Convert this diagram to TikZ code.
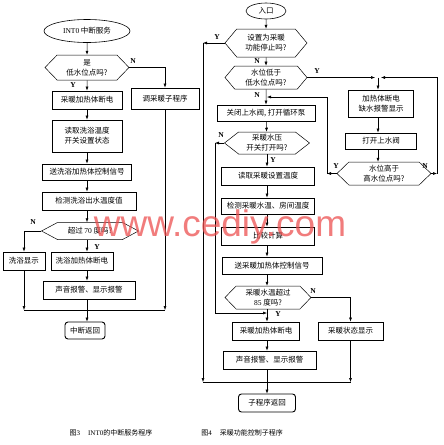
\documentclass[tikz,border=0pt]{standalone}
\usepackage{fontspec}
\setmainfont{Liberation Serif}
\newfontfamily\cjk{Noto Sans CJK SC}
\newfontfamily\wmfont{Liberation Sans}
\usetikzlibrary{arrows.meta,shapes.geometric,shapes.symbols}

\begin{document}
\begin{tikzpicture}[
  x=1pt, y=-1pt,
  font=\cjk\fontsize{7.5}{10}\selectfont,
  box/.style={draw, line width=0.9pt, align=center, inner sep=0pt},
  hexa/.style={draw, line width=0.5pt, signal, signal to=west and east, align=center, inner sep=0pt},
  term/.style={draw, line width=0.9pt, rounded corners=3pt, inner sep=0pt},
  oval/.style={draw, line width=0.6pt, ellipse, inner sep=0pt},
  arrow/.style={-{Latex[length=4pt,width=3pt]}, line width=0.5pt},
  line/.style={line width=0.5pt},
  yn/.style={font=\rmfamily\bfseries\fontsize{7.5}{8}\selectfont, inner sep=0pt},
  caption/.style={font=\cjk\fontsize{7}{8}\selectfont}
]
\useasboundingbox (0,0) rectangle (444,445);

% left chart: INT0 service
\node[oval, minimum width=86, minimum height=23] (int0) at (87,31) {{\rmfamily INT0} 中断服务};
\node[hexa, minimum width=84, minimum height=25, signal pointer angle=92] (lowq) at (87,67.5) {是\\低水位点吗?};
\node[box, minimum width=68, minimum height=21] (subr) at (165,98.5) {调采暖子程序};
\node[box, minimum width=70, minimum height=18] (hoff) at (87,100) {采暖加热体断电};
\node[box, minimum width=70, minimum height=32] (readw) at (87,136) {读取洗浴温度\\开关设置状态};
\node[box, minimum width=89, minimum height=16] (sendw) at (87,172) {送洗浴加热体控制信号};
\node[box, minimum width=94, minimum height=18] (detw) at (89,201) {检测洗浴出水温度值};
\node[hexa, minimum width=97, minimum height=17, signal pointer angle=56] (over70) at (90,231) {超过 {\rmfamily 70} 度吗?};
\node[box, minimum width=42, minimum height=18] (showw) at (24,261) {洗浴显示};
\node[box, minimum width=62, minimum height=18] (woff) at (82,261) {洗浴加热体断电};
\node[box, minimum width=92, minimum height=18] (alarmw) at (89,290) {声音报警、显示报警};
\node[term, minimum width=40, minimum height=17] (retw) at (85,330.5) {中断返回};
\coordinate (mL) at (24,310);
\coordinate (mR) at (165,310);

\draw[arrow] (int0) -- (lowq);
\draw[arrow] (lowq) -- (hoff);
\draw[arrow] (lowq.east) -| (subr.north);
\draw[arrow] (hoff) -- (readw);
\draw[arrow] (readw) -- (sendw);
\draw[arrow] (sendw.south) -- (sendw.south |- detw.north);
\draw[arrow] (sendw.south |- detw.south) -- (sendw.south |- over70.north);
\draw[arrow] (sendw.south |- over70.south) -- (sendw.south |- woff.north);
\draw[arrow] (over70.west) -| (showw.north);
\draw[arrow] (sendw.south |- woff.south) -- (sendw.south |- alarmw.north);
\draw[arrow] (sendw.south |- alarmw.south) -- (sendw.south |- retw.north);
\draw[arrow] (showw.south) -- (mL);
\draw[arrow] (subr.south) -- (mR);
\draw[line] (mL) -- (mR);
\node[yn] at (133,61) {N};
\node[yn] at (73,85) {Y};
\node[yn] at (33,222) {N};
\node[yn] at (97,247) {Y};

% right chart: heating subroutine
\node[oval, minimum width=40, minimum height=16] (entry) at (266,11) {入口};
\node[hexa, minimum width=82, minimum height=28, signal pointer angle=100] (stopq) at (266,43) {设置为采暖\\功能停止吗?};
\node[hexa, minimum width=82, minimum height=23, signal pointer angle=100] (lowlv) at (266,77.5) {水位低于\\低水位点吗?};
\node[box, minimum width=98, minimum height=16] (valve) at (266,113) {关闭上水阀, 打开循环泵};
\node[hexa, minimum width=85, minimum height=22, signal pointer angle=76] (pressq) at (267,143) {采暖水压\\开关打开吗?};
\node[box, minimum width=93, minimum height=18] (readh) at (268,176) {读取采暖设置温度};
\node[box, minimum width=93, minimum height=16] (deth) at (268,206) {检测采暖水温、房间温度};
\node[box, minimum width=93, minimum height=18] (comp) at (268,236) {比较计算};
\node[box, minimum width=100, minimum height=17] (sendh) at (272,265.5) {送采暖加热体控制信号};
\node[hexa, minimum width=86, minimum height=23, signal pointer angle=92] (over85) at (268,297.5) {采暖水温超过\\{\rmfamily 85} 度吗?};
\node[box, minimum width=67, minimum height=18] (hoffh) at (266,331) {采暖加热体断电};
\node[box, minimum width=65, minimum height=18] (showh) at (350.5,331) {采暖状态显示};
\node[box, minimum width=93, minimum height=18] (alarmh) at (269.5,360) {声音报警、显示报警};
\node[term, minimum width=57, minimum height=18] (reth) at (267,403) {子程序返回};

\node[box, minimum width=65, minimum height=27] (cutoff) at (381,103.5) {加热体断电\\缺水报警显示};
\node[box, minimum width=71, minimum height=16] (openv) at (381,141) {打开上水阀};
\node[hexa, minimum width=94, minimum height=23, signal pointer angle=88] (highq) at (384,173.5) {水位高于\\高水位点吗?};

\coordinate (jn) at (378,77.5);
\coordinate (stopL) at (203,43);
\coordinate (pressL) at (215,143);
\coordinate (highL) at (327,173.5);
\coordinate (highR) at (437,173.5);
\coordinate (nL) at (203,382);
\coordinate (nR) at (350.5,382);

\draw[arrow] (entry) -- (stopq);
\draw[arrow] (stopq) -- (lowlv);
\draw[arrow] (stopq.west) -- (stopL);
\draw[arrow] (stopL) -- (nL);
\draw[arrow] (lowlv) -- (valve);
\draw[arrow] (lowlv.east) -- ([xshift=-3pt]jn);
\draw[arrow] (jn) -- (jn |- cutoff.north);
\draw[arrow] (jn |- cutoff.south) -- (jn |- openv.north);
\draw[arrow] (jn |- openv.south) -- (jn |- highq.north);
\draw[arrow] (highq.east) -- (highR);
\draw[arrow] (highR) |- ([xshift=3pt]jn);
\draw[arrow] (highq.west) -- (highL);
\draw[arrow] (highL) |- (267,97);
\draw[arrow] (valve) -- (pressq);
\draw[arrow] (pressq.south) -- (pressq.south |- readh.north);
\draw[arrow] (pressq.west) -- (pressL);
\draw[arrow] (pressL) |- (267,313);
\draw[arrow] (267,0 |- readh.south) -- (267,0 |- deth.north);
\draw[arrow] (267,0 |- deth.south) -- (267,0 |- comp.north);
\draw[arrow] (267,0 |- comp.south) -- (267,0 |- sendh.north);
\draw[arrow] (267,0 |- sendh.south) -- (267,0 |- over85.north);
\draw[arrow] (267,0 |- over85.south) -- (267,0 |- hoffh.north);
\draw[arrow] (over85.east) -| (showh.north);
\draw[arrow] (267,0 |- hoffh.south) -- (267,0 |- alarmh.north);
\draw[arrow] (267,0 |- alarmh.south) -- (267,0 |- reth.north);
\draw[arrow] (showh.south) -- (nR);
\draw[line] (nL) -- (nR);

\node[yn] at (217,37) {Y};
\node[yn] at (257,61) {N};
\node[yn] at (317,71) {Y};
\node[yn] at (257,95) {N};
\node[yn] at (221,135) {N};
\node[yn] at (273,160) {Y};
\node[yn] at (336,166) {Y};
\node[yn] at (425,166) {N};
\node[yn] at (313,291) {N};
\node[yn] at (278,314) {Y};

% captions
\node[caption] (cap3) at (111,433) {图{\rmfamily 3}\hspace{8pt}{\rmfamily INT0}的中断服务程序};
\node[caption] (cap4) at (242,433) {图{\rmfamily 4}\hspace{8pt}采暖功能控制子程序};

% watermark
\node[font=\wmfont\fontsize{37}{37}\selectfont, text={rgb,255:red,236;green,80;blue,80}, opacity=0.75, anchor=base, inner sep=0pt] (wm) at (220,236) {www.cediy.com};
\end{tikzpicture}
\end{document}
